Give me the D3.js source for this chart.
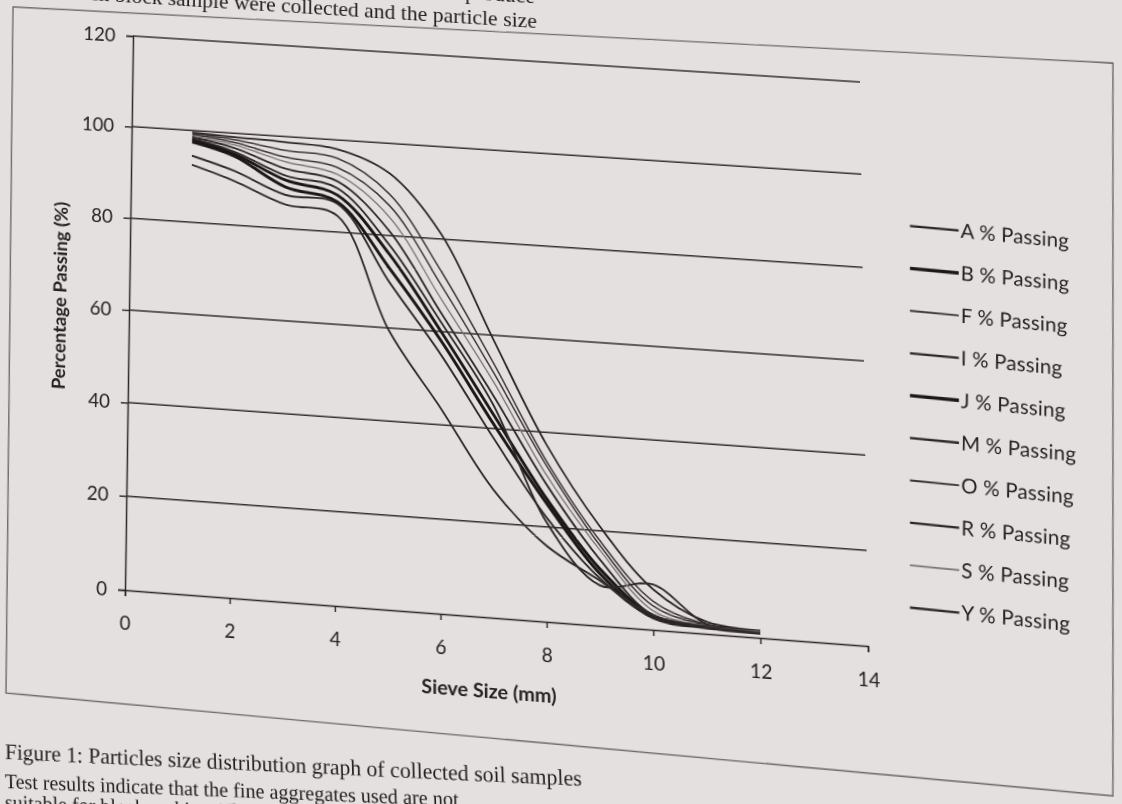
<!DOCTYPE html>
<html><head><meta charset="utf-8">
<script src="https://cdn.jsdelivr.net/npm/d3@7"></script>
<style>
html,body{margin:0;padding:0;width:1122px;height:804px;overflow:hidden;background:#e4e0df;}
#page{position:absolute;left:0;top:0;width:1300px;height:950px;transform-origin:0 0;}
svg{display:block;overflow:visible}
</style></head><body>
<div id="page"><svg id="chart" width="1300" height="950"></svg></div>
<script>
// ---------- data ----------
const sieveSizes = [1.18, 2, 3, 4, 5, 6, 7, 8, 9, 10, 11, 12];
const seriesNames = ["A % Passing","B % Passing","F % Passing","I % Passing","J % Passing","M % Passing","O % Passing","R % Passing","S % Passing","Y % Passing"];
const A = [99.6, 99.2, 98.8, 98.0, 93.5, 81.0, 59.0, 37.5, 21.0, 8.5, 2.5, 1.5];
const B = [98.0, 95.5, 90.5, 88.0, 76.0, 60.0, 43.0, 26.0, 12.0, 3.0, 1.5, 1.2];
const F = [99.4, 98.6, 97.0, 96.0, 89.0, 73.0, 54.0, 34.0, 18.0, 6.0, 2.0, 1.4];
const I = [98.6, 96.8, 93.0, 91.0, 81.0, 64.0, 47.0, 29.0, 14.0, 3.0, 1.5, 1.2];
const J = [97.5, 95.0, 89.0, 86.5, 73.0, 58.0, 41.0, 25.0, 11.0, 2.5, 1.3, 1.0];
const M = [94.5, 91.8, 87.3, 86.1, 70.0, 55.0, 38.0, 22.0, 10.0, 2.5, 1.2, 1.0];
const O = [99.2, 98.0, 95.5, 94.0, 86.5, 70.0, 52.0, 33.0, 17.0, 5.0, 1.8, 1.3];
const R = [98.3, 96.0, 91.5, 89.5, 78.0, 62.0, 45.0, 21.0, 8.5, 9.5, 2.0, 1.5];
const S = [98.9, 97.5, 94.5, 92.5, 84.0, 67.0, 50.0, 31.0, 16.0, 4.0, 1.6, 1.3];
const Y = [92.5, 89.6, 85.2, 83.5, 59.5, 43.5, 27.0, 16.0, 9.5, 3.0, 1.5, 1.0];
const seriesValues = [A, B, F, I, J, M, O, R, S, Y];
const yTicks = [0, 20, 40, 60, 80, 100, 120];
const xTicks = [0, 2, 4, 6, 8, 10, 12, 14];
const yTitle = "Percentage Passing (%)";
const xTitle = "Sieve Size (mm)";
const caption = "Figure 1: Particles size distribution graph of collected soil samples";
const textAbove = ["produce", "each block sample were collected and the particle size"];
const textBelow = ["Test results indicate that the fine aggregates used are not", "suitable for block making. The"];

// ---------- styles ----------
const lineStyles = [
  {w:1.8, c:"#2a2323"}, {w:3.0, c:"#1c1717"}, {w:1.5, c:"#3e3636"}, {w:1.9, c:"#2e2828"},
  {w:3.0, c:"#1c1717"}, {w:1.9, c:"#2e2828"}, {w:1.5, c:"#3a3232"}, {w:1.9, c:"#2e2828"},
  {w:1.4, c:"#7d7575"}, {w:1.9, c:"#302a2a"}
];

// ---------- perspective of the photographed page ----------
const plot = {left:129, right:864, top:36, bottom:590};
const flatCorners = [[plot.left,plot.top],[plot.right,plot.top],[plot.right,plot.bottom],[plot.left,plot.bottom]];
const photoCorners = [[133,36],[860,82],[868,646],[125,590]];

function solveLinear(Am, b){
  const n=b.length; const M=Am.map((r,i)=>r.concat([b[i]]));
  for(let c=0;c<n;c++){
    let p=c; for(let r=c+1;r<n;r++) if(Math.abs(M[r][c])>Math.abs(M[p][c])) p=r;
    [M[c],M[p]]=[M[p],M[c]];
    for(let r=0;r<n;r++){ if(r===c) continue; const f=M[r][c]/M[c][c]; for(let k=c;k<=n;k++) M[r][k]-=f*M[c][k]; }
  }
  return M.map((r,i)=>r[n]/r[i]);
}
function homography(src,dst){
  const Am=[],b=[];
  for(let i=0;i<4;i++){const [x,y]=src[i],[X,Yy]=dst[i];
    Am.push([x,y,1,0,0,0,-X*x,-X*y]); b.push(X);
    Am.push([0,0,0,x,y,1,-Yy*x,-Yy*y]); b.push(Yy);}
  return solveLinear(Am,b);
}
const h = homography(flatCorners, photoCorners);
const Hm = [[h[0],h[1],h[2]],[h[3],h[4],h[5]],[h[6],h[7],1]];
function inv3(m){
  const [a,b,c]=m[0],[d,e,f]=m[1],[g,hh,i]=m[2];
  const A_=e*i-f*hh, B_=-(d*i-f*g), C_=d*hh-e*g;
  const det=a*A_+b*B_+c*C_;
  return [[A_/det, -(b*i-c*hh)/det, (b*f-c*e)/det],
          [B_/det, (a*i-c*g)/det, -(a*f-c*d)/det],
          [C_/det, -(a*hh-b*g)/det, (a*e-b*d)/det]];
}
const Hi = inv3(Hm);
function unwarp(p){const [x,y]=p; const w=Hi[2][0]*x+Hi[2][1]*y+Hi[2][2];
  return [(Hi[0][0]*x+Hi[0][1]*y+Hi[0][2])/w,(Hi[1][0]*x+Hi[1][1]*y+Hi[1][2])/w];}
document.getElementById("page").style.transform =
  `matrix3d(${h[0]},${h[3]},0,${h[6]},${h[1]},${h[4]},0,${h[7]},0,0,1,0,${h[2]},${h[5]},0,1)`;

// ---------- chart ----------
const svg = d3.select("#chart");
const ink = "#2d2727";
const chartFont = "Lato, 'Open Sans', sans-serif";
const serif = "'Liberation Serif', 'DejaVu Serif', serif";

// frame
const frame = [[13,7],[1113,63],[1113,796],[6,693]].map(unwarp);
svg.append("path").attr("d", d3.line()(frame)+"Z").attr("fill","none").attr("stroke","#6f6969").attr("stroke-width",1.4);

const x = d3.scaleLinear().domain([0,14]).range([plot.left, plot.right]);
const y = d3.scaleLinear().domain([0,120]).range([plot.bottom, plot.top]);

// gridlines
svg.append("g").selectAll("line").data(yTicks.filter(v=>v>0)).join("line")
  .attr("x1",plot.left).attr("x2",plot.right).attr("y1",d=>y(d)).attr("y2",d=>y(d))
  .attr("stroke","#363030").attr("stroke-width",1.5);

// axes
const gy = svg.append("g").attr("transform",`translate(${plot.left},0)`)
  .call(d3.axisLeft(y).tickValues(yTicks).tickSize(7).tickPadding(11));
const gx = svg.append("g").attr("transform",`translate(0,${plot.bottom})`)
  .call(d3.axisBottom(x).tickValues(xTicks).tickSize(6).tickPadding(20));
[gy,gx].forEach(g=>{
  g.select(".domain").attr("stroke",ink).attr("stroke-width",1.5);
  g.selectAll(".tick line").attr("stroke",ink).attr("stroke-width",1.4);
  g.selectAll(".tick text").attr("fill","#262121").style("font-family",chartFont).style("font-size","19px");
});

// titles
svg.append("text").attr("transform",`translate(${plot.left-64},303) rotate(-90)`)
  .attr("text-anchor","middle").attr("font-family",chartFont).attr("font-weight","bold")
  .attr("font-size",18.5).attr("fill","#262121").text(yTitle);
svg.append("text").attr("x",492).attr("y",plot.bottom+78).attr("text-anchor","middle")
  .attr("font-family",chartFont).attr("font-weight","bold").attr("font-size",19.5).attr("fill","#262121").text(xTitle);

// series
const line = d3.line().x(d=>x(d[0])).y(d=>y(d[1])).curve(d3.curveCatmullRom.alpha(0.5));
svg.append("g").selectAll("path").data(seriesValues).join("path")
  .attr("d",vals=>line(sieveSizes.map((s,i)=>[s,vals[i]])))
  .attr("fill","none").attr("stroke",(d,i)=>lineStyles[i].c).attr("stroke-width",(d,i)=>lineStyles[i].w)
  .attr("stroke-linejoin","round");

// legend
const leg = svg.append("g");
seriesNames.forEach((name,i)=>{
  const p = unwarp([910, 226 + i*42.4]);
  const g = leg.append("g").attr("transform",`translate(${p[0]},${p[1]}) rotate(1.6)`);
  g.append("line").attr("x1",0).attr("x2",48).attr("y1",0).attr("y2",0)
    .attr("stroke",lineStyles[i].c).attr("stroke-width",lineStyles[i].w+0.4);
  g.append("text").attr("x",50).attr("y",7).attr("font-family",chartFont)
    .attr("font-size",20).attr("fill","#262121").attr("letter-spacing","0.2px").text(name);
});

// surrounding page text
const ta0 = unwarp([535, 3]), ta1 = unwarp([537, 28]);
svg.append("text").attr("x",ta0[0]).attr("y",ta0[1]).attr("text-anchor","end").attr("font-family",serif)
  .attr("font-size",22).attr("fill","#231e1e").text(textAbove[0]);
svg.append("text").attr("x",ta1[0]).attr("y",ta1[1]).attr("text-anchor","end").attr("font-family",serif)
  .attr("font-size",22).attr("fill","#231e1e").text(textAbove[1]);
const cp = unwarp([5, 759]);
svg.append("text").attr("transform",`translate(${cp[0]},${cp[1]}) rotate(-1.8)`)
  .attr("font-family",serif).attr("font-size",21.5).attr("fill","#231e1e").text(caption);
textBelow.forEach((t,i)=>{
  const p = unwarp([5, 788 + i*21]);
  svg.append("text").attr("transform",`translate(${p[0]},${p[1]}) rotate(-2.2)`)
    .attr("font-family",serif).attr("font-size",20).attr("fill","#231e1e").text(t);
});
</script>
</body></html>
